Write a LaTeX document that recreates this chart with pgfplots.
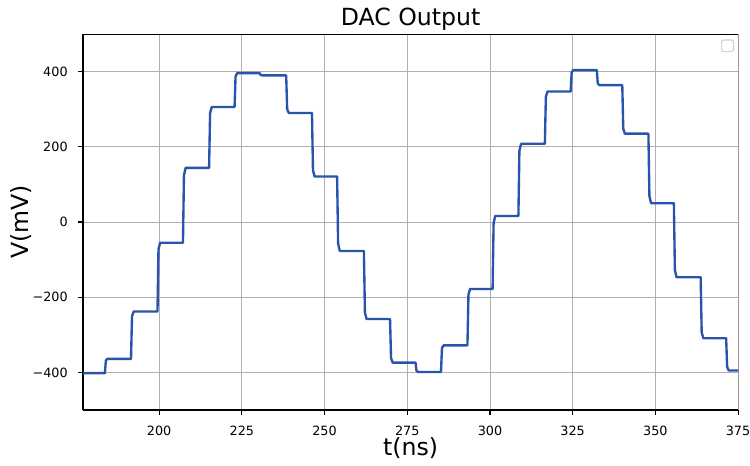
\documentclass[border=0pt]{standalone}
\usepackage{fontspec}
\setmainfont{DejaVu Sans}
\usepackage{pgfplots}
\pgfplotsset{compat=1.18}

\definecolor{trace}{RGB}{42,84,172}
\definecolor{gridc}{RGB}{176,176,176}

% DAC output: (time ns, voltage mV)
\pgfplotstableread{
t v
177.0 -402
183.6 -402
183.9 -368
184.4 -364
191.5 -364
191.8 -251
192.3 -238
199.5 -238
199.8 -73
200.3 -55
207.2 -55
207.5 124
208.0 144
215.1 144
215.4 290
215.9 306
222.8 306
223.1 387
223.6 396
230.4 396
230.7 391
231.2 390
238.4 390
238.7 300
239.2 290
246.2 290
246.5 138
247.0 121
253.8 121
254.1 -57
254.6 -77
261.9 -77
262.2 -240
262.7 -258
269.8 -258
270.1 -362
270.6 -374
277.5 -374
277.8 -396
278.3 -399
285.2 -399
285.5 -335
286.0 -328
293.2 -328
293.5 -193
294.0 -178
300.8 -178
301.1 -3
301.6 16
308.6 16
308.9 189
309.4 208
316.6 208
316.9 333
317.4 347
324.4 347
324.7 398
325.2 404
332.3 404
332.6 368
333.1 364
340.0 364
340.3 248
340.8 235
347.9 235
348.2 69
348.7 50
355.6 50
355.9 -127
356.4 -147
363.7 -147
364.0 -293
364.5 -309
371.4 -309
371.7 -386
372.2 -395
375.0 -395
}\dac

\begin{document}
\begin{tikzpicture}
\path[use as bounding box] (-59.8pt,-40.3pt) rectangle (480.2pt,295.2pt);
\begin{axis}[
  scale only axis,
  width=471.6pt, height=270.7pt,
  xmin=177, xmax=375, ymin=-500, ymax=500,
  xtick={200,225,...,375},
  ytick={-400,-200,0,200,400},
  yticklabels={−400,−200,0,200,400},
  grid=major,
  major grid style={draw=gridc, line width=0.6pt},
  axis line style={draw=black, line width=0.8pt},
  tick style={draw=black, line width=0.8pt},
  tick align=outside,
  major tick length=3.5pt,
  axis x line*=bottom, axis y line*=left,
  /pgf/number format/assume math mode=true,
  /pgf/number format/1000 sep={},
  tick label style={font=\fontsize{9.2}{11}\selectfont, inner sep=0pt},
  xticklabel style={anchor=base, yshift=-14.9pt},
  yticklabel style={anchor=east, xshift=-7.4pt},
  title={DAC Output},
  title style={font=\fontsize{17}{20}\selectfont, at={(axis description cs:0.5,1)},
               anchor=base, yshift=-0.2pt, inner sep=0pt},
  xlabel={t(ns)},
  xlabel style={font=\fontsize{17}{20}\selectfont, at={(axis description cs:0.5,0)},
                anchor=base, yshift=-32.4pt, inner sep=0pt},
  ylabel={V(mV)},
  % the label is rotated by 90 degrees, so its yshift moves it to the left
  ylabel style={font=\fontsize{17}{20}\selectfont, at={(axis description cs:0,0.5)},
                anchor=base, yshift=39.2pt, inner sep=0pt},
  clip=true,
]
\addplot[draw=trace, line width=1.7pt, line join=round, mark=none] table[x=t, y=v] {\dac};
\draw[draw=black, line width=0.8pt] (rel axis cs:1,0) -- (rel axis cs:1,1) -- (rel axis cs:0,1);
\draw[draw=black!18, line width=0.8pt, rounded corners=1.5pt]
  (rel axis cs:0.975,0.984) rectangle (rel axis cs:0.993,0.953);
\end{axis}
\end{tikzpicture}
\end{document}
